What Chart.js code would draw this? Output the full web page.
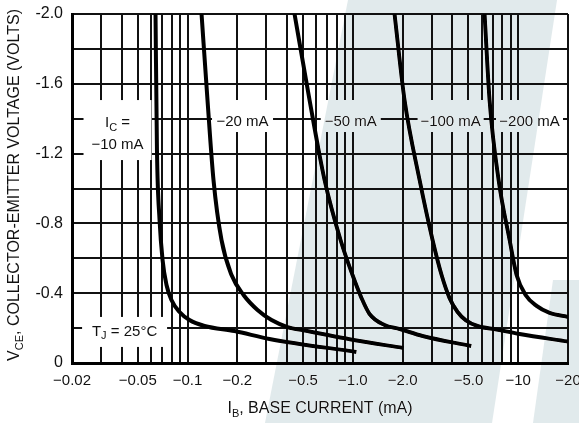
<!DOCTYPE html>
<html>
<head>
<meta charset="utf-8">
<script src="https://cdn.jsdelivr.net/npm/chart.js@4.4.0/dist/chart.umd.min.js"></script>
<style>
  html, body { margin: 0; padding: 0; background: #fff; }
  #vceChart { display: block; }
</style>
</head>
<body>
<canvas id="vceChart" width="579" height="423"></canvas>
<script>
// axis ticks (base current in mA, collector-emitter voltage in volts)
var ibTicks = [-0.02, -0.05, -0.1, -0.2, -0.5, -1.0, -2.0, -5.0, -10, -20];
var ibTickLabels = ['−0.02', '−0.05', '−0.1', '−0.2', '−0.5', '−1.0', '−2.0', '−5.0', '−10', '−20'];
var vceTicks = [-2.0, -1.6, -1.2, -0.8, -0.4, 0];
var vceTickLabels = ['-2.0', '-1.6', '-1.2', '-0.8', '-0.4', '0'];

// one curve per collector current
var curveNames = ['−10 mA', '−20 mA', '−50 mA', '−100 mA', '−200 mA'];

var ib10  = [-0.064, -0.0653, -0.0677, -0.0706, -0.0746, -0.0799, -0.0894, -0.1027, -0.1266, -0.1924, -0.313, -1.05];
var vce10 = [-2.0, -1.22, -0.82, -0.59, -0.447, -0.361, -0.292, -0.246, -0.212, -0.183, -0.138, -0.063];

var ib20  = [-0.1215, -0.132, -0.1435, -0.1604, -0.1845, -0.2181, -0.265, -0.322, -0.4025, -0.51, -1.01, -2.02];
var vce20 = [-2.0, -1.507, -1.049, -0.705, -0.504, -0.390, -0.304, -0.246, -0.206, -0.186, -0.132, -0.086];

var ib50  = [-0.4436, -0.5467, -0.674, -0.842, -0.995, -1.128, -1.261, -1.554, -1.916, -2.638, -5.2];
var vce50 = [-2.0, -1.507, -1.049, -0.705, -0.504, -0.372, -0.281, -0.218, -0.195, -0.155, -0.097];

var ib100  = [-1.786, -2.053, -2.531, -3.033, -3.439, -3.843, -4.297, -4.803, -5.677, -7.398, -10.19, -20];
var vce100 = [-2.0, -1.507, -1.049, -0.705, -0.504, -0.372, -0.292, -0.246, -0.212, -0.192, -0.166, -0.123];

var ib200  = [-6.258, -6.708, -7.607, -8.867, -9.775, -11.08, -12.91, -15.48, -20];
var vce200 = [-2.0, -1.507, -1.049, -0.705, -0.504, -0.390, -0.327, -0.287, -0.264];

var FAMILY = '"Liberation Sans", Arial, Helvetica, sans-serif';

function pts(ib, vce) {
    return ib.map(function (x, i) { return { x: -x, y: vce[i] }; });
}

function curve(name, ib, vce) {
    return {
        label: name,
        data: pts(ib, vce),
        borderColor: '#000',
        borderWidth: 4,
        pointRadius: 0,
        cubicInterpolationMode: 'monotone',
        fill: false
    };
}

// text with subscripts: parts = [{t, sub}]
function drawRich(ctx, parts, cx, cy, size) {
    var total = 0;
    parts.forEach(function (p) {
        ctx.font = (p.sub ? Math.round(size * 0.7) : size) + 'px ' + FAMILY;
        p.w = ctx.measureText(p.t).width;
        total += p.w;
    });
    var x = cx - total / 2;
    ctx.textAlign = 'left';
    ctx.textBaseline = 'middle';
    parts.forEach(function (p) {
        ctx.font = (p.sub ? Math.round(size * 0.7) : size) + 'px ' + FAMILY;
        ctx.fillText(p.t, x, cy + (p.sub ? size * 0.3 : 0));
        x += p.w;
    });
}

// curve labels, anchored in data units (ib, v) at the text centre
var labelSpots = [
    { ib: -0.0377, v: -1.312, w: 68, up: 34, down: 26,
      lines: [[{ t: 'I' }, { t: 'C', sub: true }, { t: ' =' }], [{ t: curveNames[0] }]] },
    { ib: -0.215, v: -1.381, w: 61, up: 22, down: 10, lines: [[{ t: curveNames[1] }]] },
    { ib: -0.97, v: -1.381, w: 60, up: 22, down: 10, lines: [[{ t: curveNames[2] }]] },
    { ib: -3.9, v: -1.381, w: 66, up: 22, down: 10, lines: [[{ t: curveNames[3] }]] },
    { ib: -11.7, v: -1.381, w: 67, up: 22, down: 10, lines: [[{ t: curveNames[4] }]] },
    { ib: -0.0416, v: -0.178, w: 85, up: 15, down: 15,
      lines: [[{ t: 'T' }, { t: 'J', sub: true }, { t: ' = 25°C' }]] }
];

var decor = {
    id: 'decor',
    beforeDraw: function (chart) {
        var ctx = chart.ctx;
        ctx.save();
        ctx.fillStyle = '#fff';
        ctx.fillRect(0, 0, chart.width, chart.height);
        ctx.restore();
    },
    beforeDatasetsDraw: function (chart) {
        var ctx = chart.ctx, xs = chart.scales.x, ys = chart.scales.y;
        ctx.save();
        labelSpots.forEach(function (s) {
            var cx = xs.getPixelForValue(-s.ib), cy = ys.getPixelForValue(s.v);
            ctx.fillStyle = '#fff';
            ctx.fillRect(cx - s.w / 2, cy - s.up, s.w, s.up + s.down);
            ctx.fillStyle = '#111';
            var n = s.lines.length;
            s.lines.forEach(function (line, i) {
                drawRich(ctx, line, cx, cy + (i - (n - 1) / 2) * 22, 15);
            });
        });
        ctx.restore();
    },
    afterDraw: function (chart) {
        var ctx = chart.ctx;
        ctx.save();
        ctx.fillStyle = '#111';
        drawRich(ctx, [{ t: 'I' }, { t: 'B', sub: true }, { t: ', BASE CURRENT (mA)' }], 320, 409, 16);
        ctx.translate(15, 185);
        ctx.rotate(-Math.PI / 2);
        drawRich(ctx, [{ t: 'V' }, { t: 'CE', sub: true }, { t: ', COLLECTOR-EMITTER VOLTAGE (VOLTS)' }], 0, 0, 16);
        ctx.restore();

        // faint watermark behind everything
        ctx.save();
        ctx.globalCompositeOperation = 'darken';
        ctx.fillStyle = '#e1eaec';
        ctx.beginPath();
        ctx.moveTo(348, 0); ctx.lineTo(557, 0); ctx.lineTo(492, 423); ctx.lineTo(265, 423);
        ctx.closePath();
        ctx.fill();
        ctx.beginPath();
        ctx.moveTo(553, 280); ctx.lineTo(579, 280); ctx.lineTo(579, 423); ctx.lineTo(533, 423);
        ctx.closePath();
        ctx.fill();
        ctx.restore();
    }
};

var ctx = document.getElementById('vceChart').getContext('2d');
var vceChart = new Chart(ctx, {
    type: 'line',
    data: {
        datasets: [
            curve(curveNames[0], ib10, vce10),
            curve(curveNames[1], ib20, vce20),
            curve(curveNames[2], ib50, vce50),
            curve(curveNames[3], ib100, vce100),
            curve(curveNames[4], ib200, vce200)
        ]
    },
    options: {
        responsive: false,
        animation: false,
        layout: { padding: { top: 14, right: 11, left: 0, bottom: 0 } },
        plugins: {
            legend: { display: false },
            tooltip: { enabled: false }
        },
        scales: {
            x: {
                type: 'logarithmic',
                min: 0.02,
                max: 20,
                afterBuildTicks: function (s) {
                    var t = [];
                    [0.01, 0.1, 1, 10].forEach(function (d) {
                        for (var k = 1; k <= 9; k++) {
                            var v = +(k * d).toPrecision(3);
                            if (v >= 0.02 && v <= 20) t.push({ value: v });
                        }
                    });
                    s.ticks = t;
                },
                afterFit: function (s) { s.height = 60; s.paddingLeft = 0; s.paddingRight = 0; },
                ticks: {
                    autoSkip: false,
                    maxRotation: 0,
                    minRotation: 0,
                    padding: 9,
                    color: '#111',
                    font: { family: FAMILY, size: 15 },
                    callback: function (v) {
                        for (var i = 0; i < ibTicks.length; i++) {
                            if (Math.abs(-ibTicks[i] - v) < 1e-6 * v) return ibTickLabels[i];
                        }
                        return '';
                    }
                },
                grid: { color: '#111', lineWidth: 2, drawTicks: false },
                border: { color: '#000', width: 3 }
            },
            y: {
                type: 'linear',
                min: -2,
                max: 0,
                reverse: true,
                afterFit: function (s) { s.width = 72; s.paddingTop = 0; s.paddingBottom = 0; },
                ticks: {
                    stepSize: 0.2,
                    padding: 9,
                    color: '#111',
                    font: { family: FAMILY, size: 16 },
                    callback: function (v) {
                        for (var i = 0; i < vceTicks.length; i++) {
                            if (Math.abs(vceTicks[i] - v) < 1e-6) return vceTickLabels[i];
                        }
                        return '';
                    }
                },
                grid: { color: '#111', lineWidth: 2, drawTicks: false },
                border: { color: '#000', width: 3 }
            }
        }
    },
    plugins: [decor]
});
</script>
</body>
</html>
